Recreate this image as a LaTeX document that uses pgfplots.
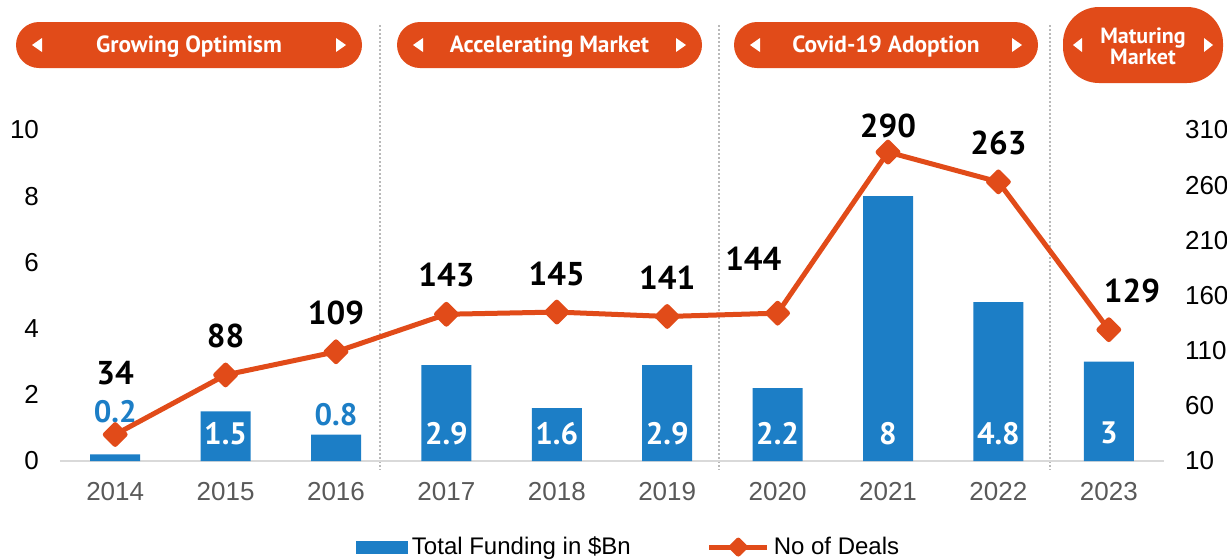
\documentclass[border=0pt]{standalone}
\usepackage{fontspec}
\setmainfont{Liberation Sans}
\newfontfamily\dinfont{PT Sans}
\usepackage{pgfplots}
\pgfplotsset{compat=1.18}
\definecolor{barblue}{RGB}{28,126,198}
\definecolor{dealorange}{RGB}{225,75,25}
\definecolor{tickgray}{RGB}{89,89,89}
\definecolor{basegray}{RGB}{217,217,217}
\definecolor{sepgray}{RGB}{185,185,185}

\pgfplotsset{
  base/.style={
    at={(30pt,-230.5pt)}, anchor=south west,
    scale only axis, width=552pt, height=165.5pt,
    xmin=-0.5, xmax=9.5, clip=false,
    axis line style={draw=none}, tick style={draw=none},
    /pgf/number format/assume math mode=true,
    ticklabel style={font=\fontsize{13}{15}\selectfont},
  },
  lbl/.style={draw=none, nodes near coords, point meta=explicit symbolic,
    nodes near coords style={anchor=center, inner sep=0pt}},
}

\begin{document}
\begin{tikzpicture}
\useasboundingbox (0pt,0pt) rectangle (613.5pt,-279.5pt);

% period separators and banners (pixel units of the 1227x559 layout)
\begin{scope}[x=0.5pt,y=-0.5pt]
\foreach \sx in {380,719,1050}
  \draw[sepgray, line width=1pt, dash pattern=on 1pt off 1pt] (\sx,25) -- (\sx,470);
\foreach \l/\r/\t in {16/362/Growing Optimism,397/702/Accelerating Market,734/1038/Covid-19 Adoption} {
  \fill[dealorange, rounded corners=11.5pt] (\l,22) rectangle (\r,68);
  \fill[white] ({\l+26},38) -- ({\l+26},52) -- ({\l+16},45) -- cycle;
  \fill[white] ({\r-26},38) -- ({\r-26},52) -- ({\r-16},45) -- cycle;
  \node[text=white, font=\dinfont\bfseries\fontsize{11.7}{12}\selectfont] at ({(\l+\r)/2},46.5) {\t};
}
\fill[dealorange, rounded corners=18pt] (1063,7) rectangle (1223,83);
\fill[white] (1082,38) -- (1082,52) -- (1073,45) -- cycle;
\fill[white] (1204,38) -- (1204,52) -- (1213,45) -- cycle;
\node[text=white, align=center, font=\dinfont\bfseries\fontsize{11}{10.5}\selectfont] at (1143,46) {Maturing\\Market};
\end{scope}

% funding (left axis)
\begin{axis}[base,
  ymin=0, ymax=10, ytick={0,2,...,10},
  xtick={0,...,9},
  xticklabels={2014,2015,2016,2017,2018,2019,2020,2021,2022,2023},
  xticklabel style={text=tickgray, yshift=-7pt},
  yticklabel style={xshift=-7pt},
]
\draw[basegray, line width=1pt] (rel axis cs:0,0) -- (rel axis cs:1,0);
\addplot[ybar, bar width=25pt, fill=barblue, draw=none]
  coordinates {(0,0.2) (1,1.5) (2,0.8) (3,2.9) (4,1.6) (5,2.9) (6,2.2) (7,8) (8,4.8) (9,3)};
\addplot[lbl, nodes near coords style={text=white, font=\dinfont\bfseries\fontsize{15.5}{15.5}\selectfont}]
  coordinates {(1,0.84)[1.5] (3,0.84)[2.9] (4,0.84)[1.6] (5,0.84)[2.9] (6,0.84)[2.2] (7,0.84)[8] (8,0.84)[4.8] (9,0.84)[3]};
\addplot[lbl, nodes near coords style={text=barblue, font=\dinfont\bfseries\fontsize{15.5}{15.5}\selectfont}]
  coordinates {(0,1.50)[0.2] (2,1.39)[0.8]};
\end{axis}

% number of deals (right axis)
\begin{axis}[base,
  ymin=10, ymax=310, ytick={10,60,...,310},
  xtick=\empty, yticklabel pos=right,
  yticklabel style={anchor=west, xshift=7pt},
  legend style={at={(0.516,-0.26)}, anchor=center, draw=none, fill=none,
    legend columns=2, font=\fontsize{12}{14}\selectfont,
    /tikz/every even column/.append style={column sep=36pt}},
]
\addlegendimage{legend image code/.code={\fill[barblue] (0pt,-3pt) rectangle (25.5pt,3pt);}}
\addlegendentry{Total Funding in \$Bn}
\addplot[dealorange, line width=2.5pt, line join=round,
  mark=square*, mark size=3.5pt, mark options={rotate=45, solid},
  legend image code/.code={
    \draw[dealorange, line width=2.5pt] (0pt,0pt) -- (29pt,0pt);
    \fill[dealorange] (14.5pt,-3.5pt) -- (18pt,0pt) -- (14.5pt,3.5pt) -- (11pt,0pt) -- cycle;}]
  coordinates {(0,34) (1,88) (2,109) (3,143) (4,145) (5,141) (6,144) (7,290) (8,263) (9,129)};
\addlegendentry{No of Deals}
\addplot[lbl, forget plot, nodes near coords style={text=black, font=\dinfont\bfseries\fontsize{16.5}{16.5}\selectfont}]
  coordinates {(0,89.3)[34] (1,123.3)[88] (2,144.1)[109] (3,178.6)[143] (4,179.5)[145]
               (5,175.9)[141] (5.78,193.1)[144] (7,313.6)[290] (8,298.2)[263] (9.21,164.1)[129]};
\end{axis}
\end{tikzpicture}
\end{document}
